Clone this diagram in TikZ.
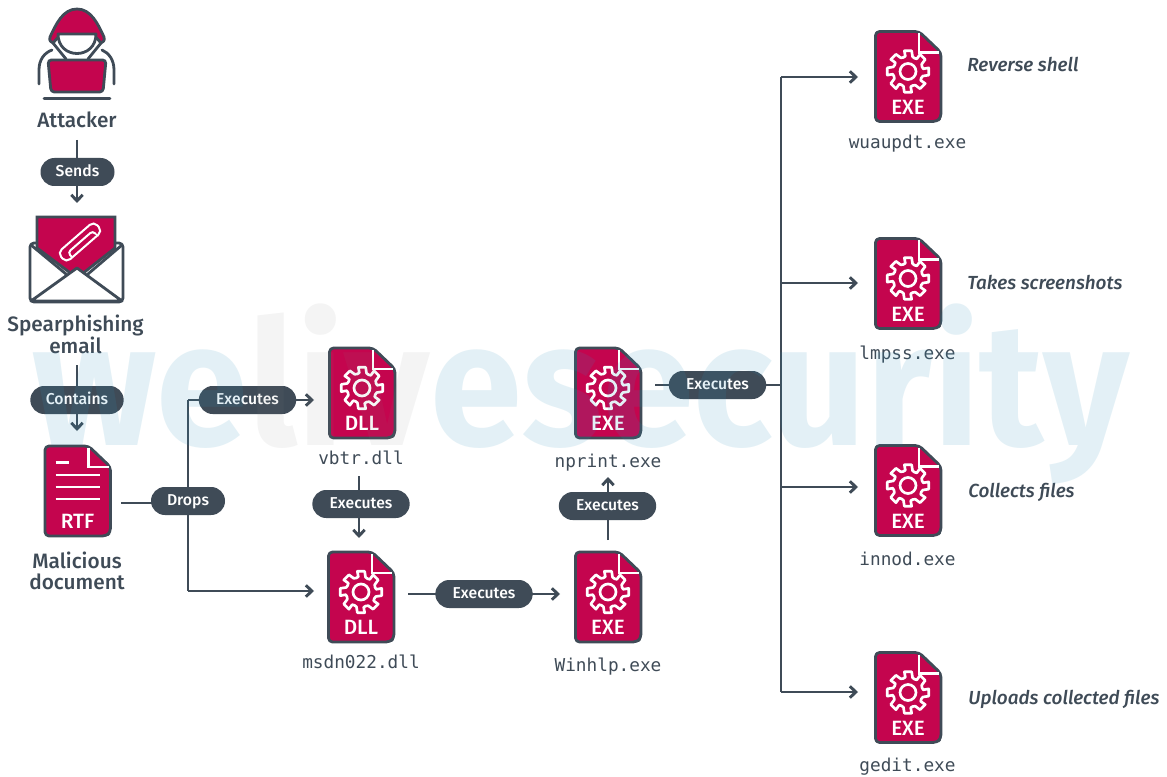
\documentclass[tikz,border=0pt]{standalone}
\usepackage{fontspec}
\setmainfont{Fira Sans}[BoldFont={Fira Sans Medium},BoldItalicFont={Fira Sans Medium Italic}]
\newfontfamily\wmfont{Fira Sans Bold}
\setmonofont{DejaVu Sans Mono}
\usetikzlibrary{arrows.meta}
\definecolor{ink}{HTML}{3F4B57}
\definecolor{docred}{HTML}{C4054E}
\definecolor{wmblue}{HTML}{2E93BF}
\definecolor{wmgrey}{HTML}{808080}
\tikzset{
  every picture/.style={x=0.75pt,y=-0.75pt},
  outline/.style={draw=ink,line width=2.1pt,line join=round,line cap=round},
  redfill/.style={outline,fill=docred},
  conn/.style={draw=ink,line width=2.2pt},
  arr/.style={conn,-{Straight Barb[length=4.5pt,width=8.5pt,line width=2.2pt]}},
  pill/.style={fill=ink,text=white,rounded corners=10.4pt,minimum height=21pt,inner sep=0pt,font=\fontsize{11.8}{13}\selectfont\bfseries,text height=8pt,text depth=0.8pt},
  title/.style={text=ink,align=center,font=\fontsize{15.6}{15.6}\selectfont\bfseries,inner sep=0pt},
  mono/.style={text=ink,anchor=base,font=\ttfamily\fontsize{13.3}{15}\selectfont,inner sep=0pt},
  note/.style={text=ink,anchor=base west,font=\fontsize{14.2}{16}\selectfont\bfseries\itshape,inner sep=0pt},
  filebox/.style={minimum width=49pt,minimum height=68pt,inner sep=0pt},
  whiteline/.style={draw=white,line width=2pt},
  wmtext/.style={anchor=base west,inner sep=0pt,font=\fontsize{131}{131}\wmfont},
}
\newcommand{\filebase}[4]{%
  \node[filebox] (#1) at (#2,#3) {};
  \begin{scope}[shift={(#2,#3)}]
    \draw[redfill,rounded corners=3pt] (-32.5,-45) -- (11,-45) -- (33,-24) -- (33,41) -- (29,45) -- (-32.5,45) -- cycle;
    \draw[whiteline] (11,-43) -- (11,-24) -- (31,-24);
    \node[text=white,inner sep=0pt,font=\fontsize{15.5}{16}\selectfont\bfseries] at (0,30.5) {#4};
  \end{scope}}
\newcommand{\gearfile}[4]{%
  \filebase{#1}{#2}{#3}{#4}
  \begin{scope}[shift={(#2,{#3-5})}]
    \draw[white,line width=2pt,line join=round]
      (80:21) \foreach \a in {0,45,...,315}{
        -- ({\a+80}:21) -- ({\a+100}:21) -- ({\a+107}:15.5) -- ({\a+116}:14.8) -- ({\a+125}:15.5) } -- cycle;
    \draw[white,line width=2pt] (0,0) circle[radius=8];
  \end{scope}}
\begin{document}
\begin{tikzpicture}
\useasboundingbox (0,0) rectangle (1167,777);
\fill[white] (0,0) rectangle (1167,777);

% Attacker
\node[minimum width=50pt,minimum height=70pt,inner sep=0pt] (hacker) at (77,54) {};
\draw[redfill] (77,9) .. controls (63,9) and (56,24) .. (50,37) .. controls (49,41) and (51,42) .. (53,43) -- (60,35) -- (94,35) -- (101,43) .. controls (103,42) and (105,41) .. (104,37) .. controls (98,24) and (91,9) .. (77,9) -- cycle;
\draw[outline,fill=white] (58,34) -- (96,34) .. controls (96,60) and (58,60) .. (58,34) -- cycle;
\draw[outline] (53,43) -- (66,59) (101,43) -- (88,59);
\draw[outline] (39,84) -- (39,70) .. controls (39,60) and (44,53) .. (52,50);
\draw[outline] (114,84) -- (114,70) .. controls (114,60) and (109,53) .. (102,50);
\draw[redfill,rounded corners=2.5pt] (48,60) -- (106,60) -- (103,92) -- (51,92) -- cycle;
\draw[outline] (44,98.5) -- (110,98.5);
\node[title] (attacker) at (77,120) {Attacker};

% Email
\node[minimum width=72pt,minimum height=66pt,inner sep=0pt] (mail) at (77,260) {};
\draw[outline,fill=white,rounded corners=3pt] (30,243) -- (123,243) -- (123,302) -- (30,302) -- cycle;
\draw[redfill,line cap=butt,line join=miter] (37,217) -- (115,217) -- (115,248) -- (77,278) -- (37,248) -- cycle;
\draw[outline] (31,245) -- (66,274);
\draw[outline] (122,245) -- (88,274);
\draw[outline,fill=white] (31,301) -- (77,268) -- (122,301) -- cycle;
\begin{scope}[shift={(80,242)},rotate=41]
  \draw[white,line width=1.5pt,line cap=round,rounded corners=4pt] (-6,6.5) -- (-24,6.5) -- (-24,-6.5) -- (24,-6.5) -- (24,6.5) -- (-14,6.5);
  \draw[white,line width=1.5pt,line cap=round,rounded corners=2.5pt] (-16,6.5) -- (-16,0) -- (17,0) -- (17,3);
\end{scope}
\node[title] (spear) at (75.5,334.5) {Spearphishing\\email};

% Documents
\filebase{rtf}{77.5}{491}{RTF}
\begin{scope}[shift={(77.5,491)}]
  \draw[whiteline,line width=1.9pt] (-22,-28.5) -- (-9,-28.5) (-22,-16) -- (22,-16) (-22,-4) -- (22,-4) (-22,8) -- (22,8);
\end{scope}
\node[title] (maldoc) at (77,570.5) {Malicious\\document};

\gearfile{vbtr}{362}{393}{DLL}
\node[mono] (vbtrt) at (361,464) {vbtr.dll};
\gearfile{msdn}{361}{597}{DLL}
\node[mono] (msdnt) at (361,668) {msdn022.dll};
\gearfile{winhlp}{608}{597}{EXE}
\node[mono] (winhlpt) at (608,671) {Winhlp.exe};
\gearfile{nprint}{608}{393}{EXE}
\node[mono] (nprintt) at (608,467) {nprint.exe};
\gearfile{wuaupdt}{908}{76.5}{EXE}
\node[mono] (wuaupdtt) at (907.5,148.5) {wuaupdt.exe};
\gearfile{lmpss}{908}{283.5}{EXE}
\node[mono] (lmpsst) at (907.5,359.5) {lmpss.exe};
\gearfile{innod}{908}{490.5}{EXE}
\node[mono] (innodt) at (907.5,565) {innod.exe};
\gearfile{gedit}{908}{697.5}{EXE}
\node[mono] (geditt) at (907.5,771) {gedit.exe};

\node[note] (n1) at (967,72) {Reverse shell};
\node[note] (n2) at (967,290) {Takes screenshots};
\node[note] (n3) at (968,497) {Collects files};
\node[note] (n4) at (968,704) {Uploads collected files};

% Connector coordinates
\coordinate (a1) at (77,140);
\coordinate (a2) at (77,203);
\coordinate (b1) at (77,365);
\coordinate (b2) at (77,431);
\coordinate (c0) at (121,503);
\coordinate (cj) at (188,503);
\coordinate (c1) at (188,400);
\coordinate (c2) at (188,591);
\coordinate (c3) at (314,400);
\coordinate (c4) at (314,591);
\coordinate (d1) at (359,476);
\coordinate (d2) at (359,538);
\coordinate (e1) at (408,594);
\coordinate (e2) at (560,594);
\coordinate (f1) at (608,540);
\coordinate (f2) at (608,477);
\coordinate (g1) at (655,385);
\coordinate (tj) at (781,385);
\coordinate (t1) at (781,77);
\coordinate (t2) at (781,283);
\coordinate (t3) at (781,487);
\coordinate (t4) at (781,692);
\coordinate (h1) at (858,77);
\coordinate (h2) at (858,283);
\coordinate (h3) at (858,487);
\coordinate (h4) at (858,692);

\draw[arr] (a1) -- (a2);
\draw[arr] (b1) -- (b2);
\draw[conn] (c0) -- (cj);
\draw[arr] (c1) -- (c3);
\draw[conn,line cap=square] (c1) -- (c2);
\draw[arr] (c2) -- (c4);
\draw[arr] (d1) -- (d2);
\draw[arr] (e1) -- (e2);
\draw[arr] (f1) -- (f2);
\draw[conn] (g1) -- (tj);
\draw[conn,line cap=square] (t1) -- (t4);
\draw[arr] (t1) -- (h1);
\draw[arr] (t2) -- (h2);
\draw[arr] (t3) -- (h3);
\draw[arr] (t4) -- (h4);

% Labels
\node[pill,minimum width=55.5pt] (sends) at (77.5,172) {Sends};
\node[pill,minimum width=70pt] (contains) at (77,400) {Contains};
\node[pill,minimum width=73pt] (ex1) at (247.5,400) {Executes};
\node[pill,minimum width=55.5pt] (drops) at (188,501) {Drops};
\node[pill,minimum width=73pt] (ex2) at (361,504) {Executes};
\node[pill,minimum width=73pt] (ex3) at (484,594) {Executes};
\node[pill,minimum width=73pt] (ex4) at (607.5,506) {Executes};
\node[pill,minimum width=73pt] (ex5) at (717.5,385) {Executes};

% Watermark
\node[wmtext,text=wmblue,opacity=.135] (wm1) at (32,445.5) {\scalebox{0.95}[1]{we}};
\node[wmtext,text=wmgrey,opacity=.085] (wm2) at (wm1.base east) {\scalebox{0.95}[1]{liv}};
\node[wmtext,text=wmblue,opacity=.135] (wm3) at (wm2.base east) {\scalebox{0.95}[1]{esecurity}};
\end{tikzpicture}
\end{document}
